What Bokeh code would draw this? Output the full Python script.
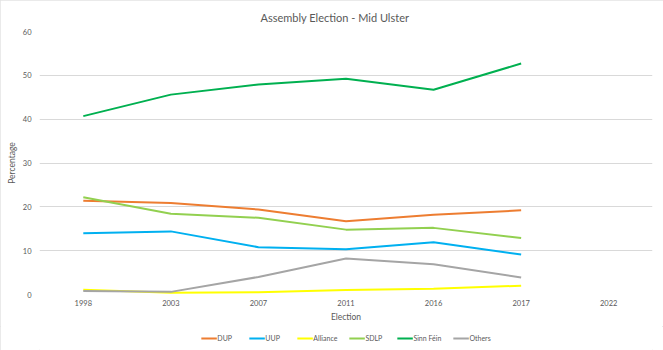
from bokeh.plotting import figure
from bokeh.models import Range1d, FixedTicker, Legend, LegendItem
from bokeh.layouts import column
from bokeh.embed import file_html
from bokeh.resources import INLINE

elections = ["1998", "2003", "2007", "2011", "2016", "2017", "2022"]
data_years = ["1998", "2003", "2007", "2011", "2016", "2017"]
dup = [21.4, 20.9, 19.4, 16.7, 18.2, 19.2]
uup = [14.0, 14.4, 10.8, 10.3, 11.9, 9.1]
alliance = [1.1, 0.4, 0.5, 1.0, 1.3, 2.0]
sdlp = [22.2, 18.4, 17.5, 14.8, 15.2, 12.9]
sinn_fein = [40.7, 45.6, 47.9, 49.2, 46.7, 52.7]
others = [0.8, 0.6, 4.0, 8.2, 6.9, 3.9]
y_ticks = [0, 10, 20, 30, 40, 50, 60]

series = [
    ("DUP", dup, "#ED7D31"),
    ("UUP", uup, "#00B0F0"),
    ("Alliance", alliance, "#FFFF00"),
    ("SDLP", sdlp, "#92D050"),
    ("Sinn Féin", sinn_fein, "#00B050"),
    ("Others", others, "#A5A5A5"),
]

FONT = "Lato"
GREY = "#595959"

p = figure(width=663, height=326, x_range=elections, y_range=Range1d(0, 60),
           output_backend="svg", toolbar_location=None,
           min_border_left=39, min_border_right=11, min_border_top=30,
           min_border_bottom=32)
p.outline_line_color = None
p.background_fill_color = "white"
p.border_fill_color = "white"

p.title.text = "Assembly Election - Mid Ulster"
p.title.align = "left"
p.title.offset = 221
p.title.text_font = FONT
p.title.text_font_size = "11px"
p.title.text_font_style = "normal"
p.title.text_color = GREY
p.title.standoff = 16

p.yaxis.ticker = FixedTicker(ticks=y_ticks)
p.xgrid.grid_line_color = None
p.ygrid.grid_line_color = "#D9D9D9"
p.ygrid.grid_line_width = 1

for ax in (p.xaxis[0], p.yaxis[0]):
    ax.axis_line_color = None
    ax.major_tick_line_color = None
    ax.minor_tick_line_color = None
    ax.major_tick_out = 0
    ax.major_tick_in = 0
    ax.minor_tick_out = 0
    ax.major_label_text_font = FONT
    ax.major_label_text_font_size = "7.5px"
    ax.major_label_text_color = GREY
    ax.axis_label_text_font = FONT
    ax.axis_label_text_font_size = "8.5px"
    ax.axis_label_text_font_style = "normal"
    ax.axis_label_text_color = GREY

p.xaxis.axis_label = "Election"
p.yaxis.axis_label = "Percentage"
p.xaxis.major_label_standoff = 5
p.xaxis.axis_label_standoff = 3
p.yaxis.major_label_standoff = 8
p.yaxis.axis_label_standoff = 3

for name, vals, color in series:
    p.line(x=data_years, y=vals, line_color=color, line_width=2)

# legend strip below the chart
lg = figure(width=663, height=24, x_range=Range1d(0, 1), y_range=Range1d(0, 1),
            output_backend="svg", toolbar_location=None,
            min_border_left=0, min_border_right=0, min_border_top=0,
            min_border_bottom=0)
lg.axis.visible = False
lg.grid.grid_line_color = None
lg.outline_line_color = None
lg.background_fill_color = "white"
lg.border_fill_color = "white"

items = []
for name, vals, color in series:
    # off-screen copy of each series, used only to draw its legend swatch
    r = lg.line(x=[5, 6], y=[5, 6], line_color=color, line_width=2)
    items.append(LegendItem(label=name, renderers=[r]))

legend = Legend(items=items, orientation="horizontal", location="center",
                label_text_font=FONT, label_text_font_size="7px",
                label_text_color=GREY, glyph_width=16, glyph_height=10,
                label_standoff=1, spacing=11, padding=2, margin=0,
                label_height=10,
                border_line_color=None, background_fill_alpha=0)
lg.add_layout(legend, "center")

layout = column(p, lg, spacing=0)
layout.styles = {"outline": "1px solid #E3E3E3", "outline-offset": "-1px"}

open("out.html", "w").write(file_html(layout, INLINE))
